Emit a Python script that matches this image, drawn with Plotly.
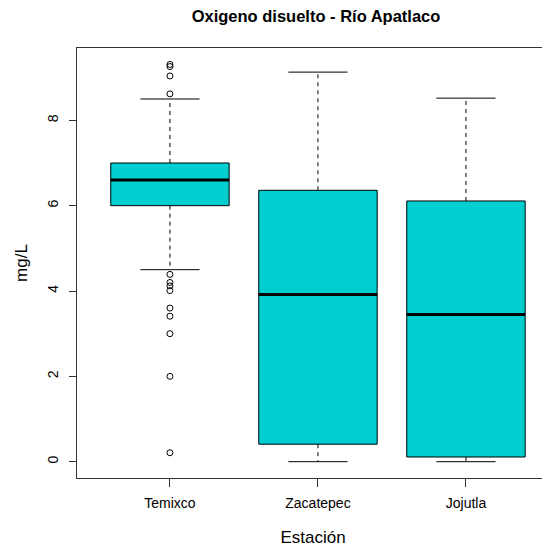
import plotly.graph_objects as go

# ---- data ----
stations = ["Temixco", "Zacatepec", "Jojutla"]
q1 = [6.0, 0.41, 0.11]
median = [6.6, 3.92, 3.45]
q3 = [7.0, 6.36, 6.11]
lower_whisker = [4.5, 0.0, 0.0]
upper_whisker = [8.5, 9.13, 8.52]
temixco_outliers = [9.31, 9.26, 9.04, 8.62, 4.39, 4.20, 4.12, 4.01,
                    3.60, 3.41, 3.0, 2.0, 0.21]
outlier_station = ["Temixco"] * len(temixco_outliers)

pos = {s: i + 1 for i, s in enumerate(stations)}
xs = [pos[s] for s in stations]
BOX_W = 0.8
FILL = "#00CED1"

fig = go.Figure()

# dashed whiskers
wx, wy = [], []
for x, a, b, c, d in zip(xs, q1, q3, lower_whisker, upper_whisker):
    wx += [x, x, None, x, x, None]
    wy += [b, d, None, a, c, None]
fig.add_trace(go.Scatter(x=wx, y=wy, mode="lines",
                         line=dict(color="black", width=1, dash="4px,4px"),
                         hoverinfo="skip", showlegend=False))

# staples
sx, sy = [], []
for x, c, d in zip(xs, lower_whisker, upper_whisker):
    h = BOX_W / 4
    sx += [x - h, x + h, None, x - h, x + h, None]
    sy += [d, d, None, c, c, None]
fig.add_trace(go.Scatter(x=sx, y=sy, mode="lines",
                         line=dict(color="black", width=1),
                         hoverinfo="skip", showlegend=False))

# boxes
fig.add_trace(go.Box(x=xs, q1=q1, median=median, q3=q3,
                     lowerfence=q1, upperfence=q3,
                     width=BOX_W, whiskerwidth=0, boxpoints=False,
                     fillcolor=FILL, line=dict(color="black", width=1),
                     hoverinfo="skip", showlegend=False))

# thick medians
mx, my = [], []
for x, m in zip(xs, median):
    h = BOX_W / 2
    mx += [x - h, x + h, None]
    my += [m, m, None]
fig.add_trace(go.Scatter(x=mx, y=my, mode="lines",
                         line=dict(color="black", width=3),
                         hoverinfo="skip", showlegend=False))

# outliers
fig.add_trace(go.Scatter(x=[pos[s] for s in outlier_station], y=temixco_outliers,
                         mode="markers",
                         marker=dict(symbol="circle-open", size=6,
                                     color="black", line=dict(width=1)),
                         hoverinfo="skip", showlegend=False))

font = "Liberation Sans, Arial, sans-serif"
fig.update_layout(
    width=550, height=550,
    margin=dict(l=69, r=9, t=40, b=80),
    plot_bgcolor="white", paper_bgcolor="white",
    font=dict(family=font, size=14, color="black"),
    title=dict(text="<b>Oxigeno disuelto - Río Apatlaco</b>",
               x=308 / 550, xref="container", xanchor="center",
               y=1 - 8 / 550, yref="container", yanchor="middle",
               font=dict(size=16.5, family=font, color="black")),
    xaxis=dict(range=[0.372, 3.561], tickvals=xs, ticktext=stations,
               showgrid=False, zeroline=False, automargin=False,
               showline=True, mirror=True, linecolor="#333", linewidth=1,
               ticks="outside", ticklen=8, tickcolor="#333",
               ticklabelstandoff=4,
               title=dict(text="Estación", standoff=21)),
    yaxis=dict(range=[-0.382, 9.695], tickvals=[0, 2, 4, 6, 8],
               showgrid=False, zeroline=False, automargin=False,
               showline=True, linecolor="#333", linewidth=1,
               ticks="outside", ticklen=7, tickcolor="#333",
               tickangle=-90, ticklabelstandoff=5,
               title=dict(text="mg/L", standoff=13)),
)

fig.write_html("out.html")
